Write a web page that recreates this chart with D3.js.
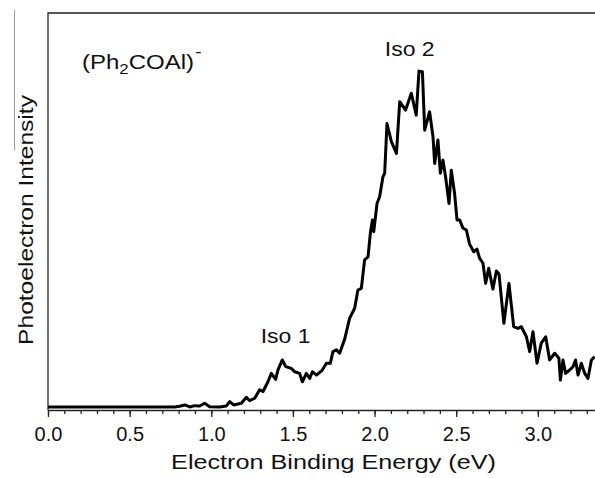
<!DOCTYPE html>
<html>
<head>
<meta charset="utf-8">
<script src="https://cdn.jsdelivr.net/npm/d3@7/dist/d3.min.js"></script>
<style>
  body { margin: 0; background: #fff; }
  text { font-family: 'Liberation Sans', Arial, sans-serif; fill: #111; }
</style>
</head>
<body>
<div id="chart"></div>
<script>
// photoelectron spectrum (eV, relative intensity)
const energy = [
  0.00, 0.776, 0.806, 0.837, 0.868, 0.898, 0.929, 0.960, 0.990, 1.051,
  1.092, 1.113, 1.137, 1.184, 1.215, 1.235, 1.266, 1.296, 1.317, 1.347,
  1.368, 1.394, 1.408, 1.435, 1.456, 1.490, 1.511, 1.541, 1.558, 1.582,
  1.603, 1.619, 1.644, 1.680, 1.705, 1.729, 1.745, 1.766, 1.786, 1.817,
  1.847, 1.878, 1.898, 1.919, 1.939, 1.960, 1.974, 1.987, 1.995, 2.015,
  2.031, 2.051, 2.062, 2.076, 2.103, 2.134, 2.154, 2.190, 2.225, 2.255,
  2.272, 2.293, 2.307, 2.337, 2.358, 2.368, 2.388, 2.403, 2.419, 2.435,
  2.456, 2.470, 2.490, 2.505, 2.521, 2.541, 2.562, 2.582, 2.607, 2.627,
  2.643, 2.664, 2.680, 2.699, 2.725, 2.746, 2.762, 2.792, 2.823, 2.852,
  2.878, 2.899, 2.930, 2.950, 2.970, 2.995, 3.021, 3.048, 3.072, 3.103,
  3.129, 3.138, 3.154, 3.170, 3.195, 3.215, 3.231, 3.246, 3.266, 3.287,
  3.307, 3.328, 3.348
];
const intensity = [
  0.000, 0.000, 0.002, 0.006, 0.000, 0.004, 0.003, 0.011, 0.001, 0.000,
  0.003, 0.016, 0.006, 0.011, 0.029, 0.019, 0.026, 0.051, 0.046, 0.075,
  0.100, 0.082, 0.110, 0.140, 0.120, 0.115, 0.105, 0.100, 0.075, 0.100,
  0.085, 0.105, 0.095, 0.110, 0.130, 0.130, 0.165, 0.170, 0.160, 0.202,
  0.264, 0.294, 0.348, 0.353, 0.438, 0.447, 0.517, 0.557, 0.522, 0.606,
  0.626, 0.685, 0.696, 0.844, 0.790, 0.755, 0.909, 0.884, 0.934, 0.869,
  1.000, 0.998, 0.824, 0.879, 0.804, 0.725, 0.795, 0.696, 0.735, 0.685,
  0.606, 0.705, 0.636, 0.557, 0.557, 0.533, 0.527, 0.485, 0.462, 0.470,
  0.443, 0.428, 0.368, 0.413, 0.351, 0.405, 0.396, 0.249, 0.368, 0.239,
  0.234, 0.239, 0.209, 0.165, 0.224, 0.130, 0.190, 0.209, 0.140, 0.160,
  0.145, 0.080, 0.140, 0.100, 0.110, 0.120, 0.140, 0.095, 0.130, 0.100,
  0.085, 0.140, 0.150
];
const majorTicks = [0.0, 0.5, 1.0, 1.5, 2.0, 2.5, 3.0];
const peakNames = ['Iso 1', 'Iso 2'];
const peakEnergy = [1.455, 2.215];
const peakLevel = [0.19, 1.045];

const W = 595, H = 478;
const m = { left: 48, top: 13, right: 595, bottom: 410 };

const svg = d3.select('#chart').append('svg')
    .attr('width', W)
    .attr('height', H);

const x = d3.scaleLinear().domain([0, 3.35]).range([m.left, m.right]);
const y = d3.scaleLinear().domain([-0.009, 1.173]).range([m.bottom, m.top]);

// scan artifact line at far left
svg.append('line')
    .attr('x1', 14.5).attr('x2', 14.5)
    .attr('y1', 10).attr('y2', 150)
    .attr('stroke', '#999').attr('stroke-width', 1);

// frame: left and top
svg.append('path')
    .attr('d', `M${m.left},${m.bottom}V${m.top}H${m.right}`)
    .attr('fill', 'none')
    .attr('stroke', '#222')
    .attr('stroke-width', 1.3);

// minor ticks
const minor = d3.range(0, 34).map(i => i / 10);
svg.append('g')
    .attr('transform', `translate(0,${m.bottom})`)
    .call(d3.axisBottom(x).tickValues(minor).tickSize(4).tickSizeOuter(0).tickFormat(''))
    .call(g => g.select('.domain').remove())
    .call(g => g.selectAll('line').attr('stroke', '#222').attr('stroke-width', 1.3));

const xAxis = svg.append('g')
    .attr('transform', `translate(0,${m.bottom})`)
    .call(d3.axisBottom(x).tickValues(majorTicks).tickSize(7).tickSizeOuter(0)
        .tickPadding(10).tickFormat(d3.format('.1f')));
xAxis.select('.domain').attr('stroke', '#222').attr('stroke-width', 1.3);
xAxis.selectAll('line').attr('stroke', '#222').attr('stroke-width', 1.3);
xAxis.selectAll('text')
    .style('font-family', "'Liberation Sans', Arial, sans-serif")
    .style('font-size', '20px')
    .attr('fill', '#111');

// spectrum
const pts = energy.map((e, i) => [e, intensity[i]]);
const line = d3.line()
    .x(d => x(d[0]))
    .y(d => y(d[1]));

svg.append('clipPath').attr('id', 'clip')
  .append('rect').attr('x', m.left).attr('y', 0).attr('width', m.right - m.left).attr('height', m.bottom);

svg.append('path')
    .datum(pts)
    .attr('clip-path', 'url(#clip)')
    .attr('d', line)
    .attr('fill', 'none')
    .attr('stroke', '#000')
    .attr('stroke-width', 3)
    .attr('stroke-linejoin', 'round');

// peak labels
peakNames.forEach((name, i) => {
  svg.append('text')
      .attr('transform', `translate(${x(peakEnergy[i])},${y(peakLevel[i])}) scale(1.15,1)`)
      .attr('text-anchor', 'middle')
      .style('font-size', '20px')
      .text(name);
});

// species label
const title = svg.append('text')
    .attr('transform', 'translate(82,69) scale(1.2,1)')
    .style('font-size', '20px');
title.append('tspan').text('(Ph');
title.append('tspan').attr('dy', 5).style('font-size', '14px').text('2');
title.append('tspan').attr('dy', -5).text('COAl)');
title.append('tspan').attr('dy', -12).attr('dx', 1).style('font-size', '16px').text('-');

// axis titles
svg.append('text')
    .attr('transform', `translate(${(m.left + m.right) / 2 + 12},469) scale(1.2,1)`)
    .attr('text-anchor', 'middle')
    .style('font-size', '21px')
    .text('Electron Binding Energy (eV)');

svg.append('text')
    .attr('transform', 'translate(32.5,220) rotate(-90) scale(1.17,1)')
    .attr('text-anchor', 'middle')
    .style('font-size', '21px')
    .text('Photoelectron Intensity');
</script>
</body>
</html>
